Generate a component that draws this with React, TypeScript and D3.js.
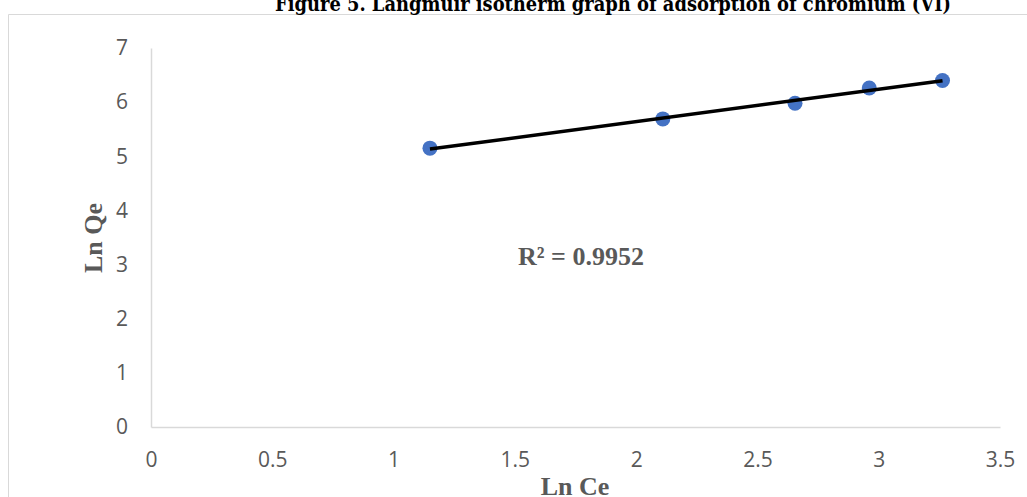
import * as d3 from 'd3';
import React, { useEffect, useRef } from 'react';

// values
const lnCe = [1.15, 2.11, 2.655, 2.961, 3.263];
const lnQe = [5.15, 5.69, 5.98, 6.26, 6.40];
const xTicks = [0, 0.5, 1, 1.5, 2, 2.5, 3, 3.5];
const yTicks = [0, 1, 2, 3, 4, 5, 6, 7];
const title = 'Figure 5.  Langmuir isotherm graph of adsorption of chromium (VI)';
const rSquared = 'R² = 0.9952';

const W = 1027;
const H = 497;

const App = () => {
  const chartRef = useRef<SVGSVGElement>(null);

  useEffect(() => {
    drawChart();
  }, []);

  const drawChart = () => {
    const svg = d3.select(chartRef.current);
    svg.selectAll('*').remove();

    const x = d3.scaleLinear().domain([0, 3.5]).range([151, 1000]);
    const y = d3.scaleLinear().domain([0, 7]).range([427, 48]);

    // chart frame
    svg.append('path')
      .attr('d', `M8.5,${H}V14.5H${W}`)
      .attr('fill', 'none')
      .attr('stroke', '#d9d9d9')
      .attr('stroke-width', 1);

    svg.append('text')
      .attr('x', 613)
      .attr('y', 11)
      .attr('text-anchor', 'middle')
      .attr('textLength', 676)
      .attr('lengthAdjust', 'spacingAndGlyphs')
      .style('font-family', '"DejaVu Serif", serif')
      .style('font-weight', 'bold')
      .style('font-size', '21px')
      .attr('fill', '#000')
      .text(title);

    const xAxis = svg.append('g')
      .attr('transform', `translate(0,${y(0)})`)
      .call(d3.axisBottom(x).tickValues(xTicks).tickSize(0).tickPadding(25).tickFormat(d => String(d)));

    const yAxis = svg.append('g')
      .attr('transform', `translate(${x(0)},0)`)
      .call(d3.axisLeft(y).tickValues(yTicks).tickSize(0).tickPadding(23).tickFormat(d => String(d)));

    [xAxis, yAxis].forEach(ax => {
      ax.select('.domain').attr('stroke', '#d9d9d9').attr('stroke-width', 1.5);
      ax.selectAll('text')
        .attr('fill', '#595959')
        .style('font-family', '"Open Sans", sans-serif')
        .style('font-size', '21px');
    });

    // linear trendline (least squares)
    const mx = d3.mean(lnCe)!;
    const my = d3.mean(lnQe)!;
    const sxy = d3.sum(lnCe, (v, i) => (v - mx) * (lnQe[i] - my));
    const sxx = d3.sum(lnCe, v => (v - mx) * (v - mx));
    const slope = sxy / sxx;
    const icpt = my - slope * mx;
    const ext = d3.extent(lnCe) as [number, number];

    const pts = lnCe.map((v, i) => [v, lnQe[i]]);

    svg.append('g')
      .selectAll('circle')
      .data(pts)
      .enter().append('circle')
      .attr('cx', d => x(d[0]))
      .attr('cy', d => y(d[1]))
      .attr('r', 7.5)
      .attr('fill', '#4472c4');

    svg.append('path')
      .datum(ext.map(v => [v, icpt + slope * v]))
      .attr('d', d3.line<number[]>().x(d => x(d[0])).y(d => y(d[1])))
      .attr('stroke', '#000')
      .attr('stroke-width', 3.5)
      .attr('fill', 'none');

    svg.append('text')
      .attr('x', 581)
      .attr('y', 265)
      .attr('text-anchor', 'middle')
      .style('font-family', '"Liberation Serif", serif')
      .style('font-weight', 'bold')
      .style('font-size', '26px')
      .attr('fill', '#595959')
      .text(rSquared);

    svg.append('text')
      .attr('x', 575)
      .attr('y', 495)
      .attr('text-anchor', 'middle')
      .style('font-family', '"Liberation Serif", serif')
      .style('font-weight', 'bold')
      .style('font-size', '26px')
      .attr('fill', '#595959')
      .text('Ln Ce');

    svg.append('text')
      .attr('transform', `translate(102,238) rotate(-90)`)
      .attr('text-anchor', 'middle')
      .style('font-family', '"Liberation Serif", serif')
      .style('font-weight', 'bold')
      .style('font-size', '26px')
      .attr('fill', '#595959')
      .text('Ln Qe');
  };

  return (
    <svg
      ref={chartRef}
      width={W}
      height={H}
      style={{ position: 'absolute', left: 0, top: 0, display: 'block', background: '#fff' }}
    ></svg>
  );
};

export default App;
